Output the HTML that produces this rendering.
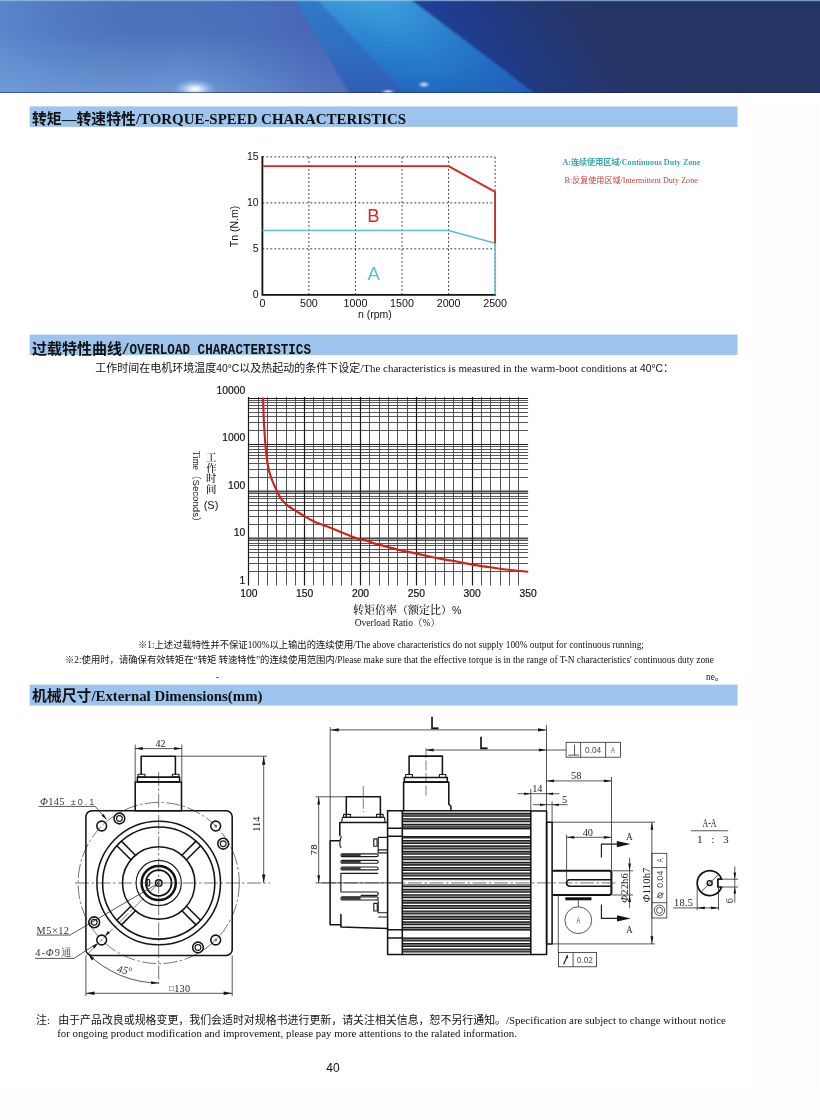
<!DOCTYPE html>
<html lang="zh"><head><meta charset="utf-8"><title>Servo motor characteristics</title>
<style>
html,body{margin:0;padding:0;background:#fff;}
body{width:820px;height:1120px;overflow:hidden;position:relative;}
svg{position:absolute;left:0;top:0;display:block;will-change:transform;}
text{white-space:pre;}
</style></head><body>
<svg width="820" height="1120" viewBox="0 0 820 1120">
<defs>
<linearGradient id="bgL" x1="0" y1="0" x2="0" y2="1">
 <stop offset="0" stop-color="#4a70ba"/><stop offset="0.35" stop-color="#4c72bb"/><stop offset="1" stop-color="#6f99d6"/>
</linearGradient>
<linearGradient id="bgLx" x1="0" y1="0" x2="1" y2="0">
 <stop offset="0" stop-color="#6fa0e0" stop-opacity="0.45"/><stop offset="0.42" stop-color="#4a6cb6" stop-opacity="0"/><stop offset="0.7" stop-color="#4560b4" stop-opacity="0.6"/><stop offset="1" stop-color="#4059b0" stop-opacity="0.9"/>
</linearGradient>
<linearGradient id="band1" x1="0" y1="0" x2="0" y2="1">
 <stop offset="0" stop-color="#2f7fca"/><stop offset="0.6" stop-color="#2b6cc0"/><stop offset="1" stop-color="#2d5cb4"/>
</linearGradient>
<linearGradient id="band2" x1="0" y1="0" x2="0" y2="1">
 <stop offset="0" stop-color="#3da2dc"/><stop offset="0.5" stop-color="#2b84cf"/><stop offset="1" stop-color="#2166c0"/>
</linearGradient>
<linearGradient id="band2x" gradientUnits="userSpaceOnUse" x1="330" y1="93" x2="470" y2="-20">
 <stop offset="0" stop-color="#2a6ac4" stop-opacity="0.55"/><stop offset="0.45" stop-color="#2a6ac4" stop-opacity="0"/><stop offset="0.55" stop-color="#1c4fb0" stop-opacity="0"/><stop offset="1" stop-color="#1c4fb0" stop-opacity="0.55"/>
</linearGradient>
<linearGradient id="navy" gradientUnits="userSpaceOnUse" x1="440" y1="60" x2="600" y2="-40">
 <stop offset="0" stop-color="#1d429c"/><stop offset="0.3" stop-color="#203a86"/><stop offset="0.7" stop-color="#24356a"/><stop offset="1" stop-color="#243463"/>
</linearGradient>
<radialGradient id="glow" cx="0.5" cy="0.5" r="0.5">
 <stop offset="0" stop-color="#ffffff" stop-opacity="1"/><stop offset="0.25" stop-color="#e8f0ff" stop-opacity="0.85"/><stop offset="1" stop-color="#8fb0e6" stop-opacity="0"/>
</radialGradient>
<filter id="soft" x="-5%" y="-5%" width="110%" height="110%"><feGaussianBlur stdDeviation="1.2"/></filter>
<clipPath id="bclip"><rect x="0" y="0" width="820" height="93"/></clipPath>
</defs>
<g clip-path="url(#bclip)">
<rect x="0" y="0" width="820" height="93" fill="url(#bgL)"/>
<rect x="0" y="0" width="440" height="93" fill="url(#bgLx)"/>
<polygon points="405,-2 822,-2 822,95 530,95" fill="url(#navy)"/>
<g filter="url(#soft)">
<polygon points="294,-2 320,-2 409,95 350,95" fill="url(#band1)" opacity="0.9"/>
<polygon points="316,-2 409,-2 537,95 407,95" fill="url(#band2)"/>
<polygon points="316,-2 409,-2 537,95 407,95" fill="url(#band2x)"/>
</g>
<ellipse cx="195" cy="89" rx="22" ry="10" fill="url(#glow)"/>
<ellipse cx="424" cy="84.5" rx="7" ry="4" fill="url(#glow)" opacity="0.75"/>
<ellipse cx="388" cy="92.5" rx="8" ry="4" fill="url(#glow)" opacity="0.95"/>
<rect x="0" y="0" width="820" height="1.2" fill="#9cc4ea" opacity="0.7"/>
<rect x="0" y="92" width="820" height="1" fill="#1e2c58" opacity="0.6"/>
</g>
<rect x="750.5" y="102" width="68" height="1018" fill="#fdfdfd"/><rect x="0" y="1088" width="820" height="32" fill="#fdfdfd"/>
<rect x="29.7" y="106.4" width="707.8" height="20.5" fill="#9dc4ec"/>
<text x="32" y="124" font-size="14.85" font-weight="bold" fill="#111" font-family='"Liberation Serif","Noto Sans CJK SC",serif'>转矩—转速特性<tspan font-size="14.92">/TORQUE-SPEED CHARACTERISTICS</tspan></text>
<rect x="29.7" y="334.6" width="707.8" height="20.5" fill="#9dc4ec"/>
<text x="32" y="354.2" font-size="15" font-weight="bold" fill="#111" font-family='"Liberation Sans","Noto Sans CJK SC",sans-serif'>过载特性曲线</text>
<text id="h2lat" x="122" y="353.8" font-size="15" font-weight="bold" fill="#111" font-family='"Liberation Mono",monospace' textLength="189" lengthAdjust="spacingAndGlyphs">/OVERLOAD CHARACTERISTICS</text>
<rect x="29.7" y="684.6" width="707.8" height="21" fill="#9dc4ec"/>
<text x="32" y="701" font-size="14.85" font-weight="bold" fill="#111" font-family='"Liberation Serif","Noto Sans CJK SC",serif'>机械尺寸<tspan>/External Dimensions(mm)</tspan></text>
<text x="95.3" y="372.3" fill="#111" font-family='"Liberation Serif","Noto Sans CJK SC",serif'><tspan font-size="11">工作时间在电机环境温度</tspan><tspan font-size="10.3" font-family='"Liberation Sans","Noto Sans CJK SC",sans-serif'>40°C</tspan><tspan font-size="11">以及热起动的条件下设定</tspan><tspan font-size="10.95">/The characteristics is measured in the warm-boot conditions at </tspan><tspan font-size="10.3" font-family='"Liberation Sans","Noto Sans CJK SC",sans-serif'>40°C</tspan><tspan font-size="11">：</tspan></text>
<text x="138" y="647.6" font-size="9.32" fill="#111" font-family='"Liberation Serif","Noto Sans CJK SC",serif'>※1:上述过载特性并不保证100%以上输出的连续使用/The above characteristics do not supply 100% output for continuous running;</text>
<text x="65" y="662.9" font-size="9.33" fill="#111" font-family='"Liberation Serif","Noto Sans CJK SC",serif'>※2:使用时，请确保有效转矩在“转矩 转速特性”的连续使用范围内/Please make sure that the effective torque is in the range of T-N characteristics' continuous duty zone</text>
<text x="706" y="680" font-size="9.3" fill="#111" font-family='"Liberation Serif","Noto Sans CJK SC",serif'>ne。</text>
<text x="216" y="680" font-size="9.3" fill="#111" font-family='"Liberation Serif","Noto Sans CJK SC",serif'>-</text>
<text x="36" y="1023.7" fill="#111" font-family='"Liberation Serif","Noto Sans CJK SC",serif'><tspan font-size="10.93">注:</tspan><tspan x="58.2"><tspan font-size="10.93">由于产品改良或规格变更，我们会适时对规格书进行更新，请关注相关信息，恕不另行通知。</tspan><tspan font-size="10.88">/Specification are subject to change without notice</tspan></tspan></text>
<text x="57.2" y="1036.7" font-size="10.84" fill="#111" font-family='"Liberation Serif","Noto Sans CJK SC",serif'>for ongoing product modification and improvement, please pay more attentions to the ralated information.</text>
<text x="333" y="1071.5" font-size="12" text-anchor="middle" fill="#111" font-family='"Liberation Sans","Noto Sans CJK SC",sans-serif'>40</text>
<g stroke="#3a3a3a" stroke-width="1.0" stroke-dasharray="1.8 2.2" fill="none"><line x1="308.9" y1="156.95" x2="308.9" y2="294.8"/><line x1="355.5" y1="156.95" x2="355.5" y2="294.8"/><line x1="402.0" y1="156.95" x2="402.0" y2="294.8"/><line x1="448.6" y1="156.95" x2="448.6" y2="294.8"/><line x1="495.1" y1="156.95" x2="495.1" y2="294.8"/><line x1="262.4" y1="248.8" x2="495.1" y2="248.8"/><line x1="262.4" y1="202.9" x2="495.1" y2="202.9"/><line x1="262.4" y1="156.9" x2="495.1" y2="156.9"/></g>
<path d="M262.4 155.95 V294.8 H496.1" stroke="#111" stroke-width="1.8" fill="none"/>
<path d="M262.4 230.5 L448.6 230.5 L495.1 243.3 L495.1 294.8" stroke="#5cbfd0" stroke-width="1.6" fill="none" stroke-linejoin="round"/>
<path d="M262.4 166.1 L448.6 166.1 L495.1 191.9 L495.1 243.3" stroke="#d5261f" stroke-width="1.8" fill="none" stroke-linejoin="round"/>
<text x="262.4" y="307.40000000000003" font-size="10.7" text-anchor="middle" fill="#111" font-family='"Liberation Sans","Noto Sans CJK SC",sans-serif'>0</text>
<text x="308.9" y="307.40000000000003" font-size="10.7" text-anchor="middle" fill="#111" font-family='"Liberation Sans","Noto Sans CJK SC",sans-serif'>500</text>
<text x="355.5" y="307.40000000000003" font-size="10.7" text-anchor="middle" fill="#111" font-family='"Liberation Sans","Noto Sans CJK SC",sans-serif'>1000</text>
<text x="402.0" y="307.40000000000003" font-size="10.7" text-anchor="middle" fill="#111" font-family='"Liberation Sans","Noto Sans CJK SC",sans-serif'>1500</text>
<text x="448.6" y="307.40000000000003" font-size="10.7" text-anchor="middle" fill="#111" font-family='"Liberation Sans","Noto Sans CJK SC",sans-serif'>2000</text>
<text x="495.1" y="307.40000000000003" font-size="10.7" text-anchor="middle" fill="#111" font-family='"Liberation Sans","Noto Sans CJK SC",sans-serif'>2500</text>
<text x="258.59999999999997" y="297.8" font-size="10.5" text-anchor="end" fill="#111" font-family='"Liberation Sans","Noto Sans CJK SC",sans-serif'>0</text>
<text x="258.59999999999997" y="251.8" font-size="10.5" text-anchor="end" fill="#111" font-family='"Liberation Sans","Noto Sans CJK SC",sans-serif'>5</text>
<text x="258.59999999999997" y="205.9" font-size="10.5" text-anchor="end" fill="#111" font-family='"Liberation Sans","Noto Sans CJK SC",sans-serif'>10</text>
<text x="258.59999999999997" y="159.9" font-size="10.5" text-anchor="end" fill="#111" font-family='"Liberation Sans","Noto Sans CJK SC",sans-serif'>15</text>
<text x="374.8" y="318" font-size="10.5" text-anchor="middle" fill="#111" font-family='"Liberation Sans","Noto Sans CJK SC",sans-serif'>n (rpm)</text>
<text transform="translate(238 226.5) rotate(-90)" font-size="10.5" text-anchor="middle" fill="#111" font-family='"Liberation Sans","Noto Sans CJK SC",sans-serif'>Tn (N.m)</text>
<text x="373.5" y="221.6" font-size="18.4" text-anchor="middle" fill="#d5261f" font-family='"Liberation Sans","Noto Sans CJK SC",sans-serif'>B</text>
<text x="373.6" y="279.8" font-size="18.6" text-anchor="middle" fill="#5cbfd0" font-family='"Liberation Sans","Noto Sans CJK SC",sans-serif'>A</text>
<text x="562.4" y="165.4" font-size="8.1" font-weight="bold" fill="#3aa5a8" font-family='"Liberation Serif","Noto Sans CJK SC",serif'>A:连续使用区域/Continuous Duty Zone</text>
<text x="564.5" y="182.9" font-size="8.08" fill="#c9413c" font-family='"Liberation Serif","Noto Sans CJK SC",serif'>B:反复使用区域/Intermittent Duty Zone</text>
<g stroke="#444" stroke-width="0.9"><line x1="258.50" y1="396.9" x2="258.50" y2="585.5"/><line x1="267.50" y1="396.9" x2="267.50" y2="585.5"/><line x1="276.50" y1="396.9" x2="276.50" y2="585.5"/><line x1="286.50" y1="396.9" x2="286.50" y2="585.5"/><line x1="295.50" y1="396.9" x2="295.50" y2="585.5"/><line x1="313.50" y1="396.9" x2="313.50" y2="585.5"/><line x1="323.50" y1="396.9" x2="323.50" y2="585.5"/><line x1="332.50" y1="396.9" x2="332.50" y2="585.5"/><line x1="341.50" y1="396.9" x2="341.50" y2="585.5"/><line x1="351.50" y1="396.9" x2="351.50" y2="585.5"/><line x1="369.50" y1="396.9" x2="369.50" y2="585.5"/><line x1="379.50" y1="396.9" x2="379.50" y2="585.5"/><line x1="388.50" y1="396.9" x2="388.50" y2="585.5"/><line x1="397.50" y1="396.9" x2="397.50" y2="585.5"/><line x1="407.50" y1="396.9" x2="407.50" y2="585.5"/><line x1="425.50" y1="396.9" x2="425.50" y2="585.5"/><line x1="435.50" y1="396.9" x2="435.50" y2="585.5"/><line x1="444.50" y1="396.9" x2="444.50" y2="585.5"/><line x1="453.50" y1="396.9" x2="453.50" y2="585.5"/><line x1="462.50" y1="396.9" x2="462.50" y2="585.5"/><line x1="481.50" y1="396.9" x2="481.50" y2="585.5"/><line x1="490.50" y1="396.9" x2="490.50" y2="585.5"/><line x1="500.50" y1="396.9" x2="500.50" y2="585.5"/><line x1="509.50" y1="396.9" x2="509.50" y2="585.5"/><line x1="518.50" y1="396.9" x2="518.50" y2="585.5"/><line x1="248.8" y1="571.50" x2="528.1" y2="571.50"/><line x1="248.8" y1="563.50" x2="528.1" y2="563.50"/><line x1="248.8" y1="557.50" x2="528.1" y2="557.50"/><line x1="248.8" y1="552.50" x2="528.1" y2="552.50"/><line x1="248.8" y1="549.50" x2="528.1" y2="549.50"/><line x1="248.8" y1="545.50" x2="528.1" y2="545.50"/><line x1="248.8" y1="543.50" x2="528.1" y2="543.50"/><line x1="248.8" y1="540.50" x2="528.1" y2="540.50"/><line x1="248.8" y1="524.50" x2="528.1" y2="524.50"/><line x1="248.8" y1="516.50" x2="528.1" y2="516.50"/><line x1="248.8" y1="510.50" x2="528.1" y2="510.50"/><line x1="248.8" y1="505.50" x2="528.1" y2="505.50"/><line x1="248.8" y1="502.50" x2="528.1" y2="502.50"/><line x1="248.8" y1="498.50" x2="528.1" y2="498.50"/><line x1="248.8" y1="496.50" x2="528.1" y2="496.50"/><line x1="248.8" y1="493.50" x2="528.1" y2="493.50"/><line x1="248.8" y1="477.50" x2="528.1" y2="477.50"/><line x1="248.8" y1="469.50" x2="528.1" y2="469.50"/><line x1="248.8" y1="463.50" x2="528.1" y2="463.50"/><line x1="248.8" y1="458.50" x2="528.1" y2="458.50"/><line x1="248.8" y1="455.50" x2="528.1" y2="455.50"/><line x1="248.8" y1="452.50" x2="528.1" y2="452.50"/><line x1="248.8" y1="449.50" x2="528.1" y2="449.50"/><line x1="248.8" y1="446.50" x2="528.1" y2="446.50"/><line x1="248.8" y1="430.50" x2="528.1" y2="430.50"/><line x1="248.8" y1="422.50" x2="528.1" y2="422.50"/><line x1="248.8" y1="416.50" x2="528.1" y2="416.50"/><line x1="248.8" y1="412.50" x2="528.1" y2="412.50"/><line x1="248.8" y1="408.50" x2="528.1" y2="408.50"/><line x1="248.8" y1="405.50" x2="528.1" y2="405.50"/><line x1="248.8" y1="402.50" x2="528.1" y2="402.50"/><line x1="248.8" y1="400.50" x2="528.1" y2="400.50"/></g>
<g stroke="#4a4a4a" stroke-width="2.2"><line x1="248.8" y1="538.50" x2="528.1" y2="538.50"/><line x1="248.8" y1="491.50" x2="528.1" y2="491.50"/></g>
<g stroke="#1a1a1a" stroke-width="1.2"><line x1="248.50" y1="396.9" x2="248.50" y2="585.5"/><line x1="304.50" y1="396.9" x2="304.50" y2="585.5"/><line x1="360.50" y1="396.9" x2="360.50" y2="585.5"/><line x1="416.50" y1="396.9" x2="416.50" y2="585.5"/><line x1="472.50" y1="396.9" x2="472.50" y2="585.5"/><line x1="248.8" y1="444.50" x2="528.1" y2="444.50"/><line x1="248.8" y1="398.50" x2="528.1" y2="398.50"/></g>
<path d="M263.0 397.5 C263.1 400.4 263.4 409.6 263.6 415.0 C263.8 420.4 264.1 425.1 264.4 430.0 C264.7 434.9 265.0 439.8 265.4 444.5 C265.8 449.2 266.2 453.8 266.8 458.0 C267.4 462.2 267.9 466.3 268.8 470.0 C269.7 473.7 271.0 477.2 272.0 480.0 C273.0 482.8 274.1 484.9 275.0 487.0 C275.9 489.1 276.6 490.8 277.7 492.9 C278.8 495.0 280.1 497.5 281.8 499.7 C283.5 501.9 285.6 504.0 288.0 505.9 C290.4 507.8 293.5 509.4 296.3 511.1 C299.1 512.8 301.5 514.5 304.6 516.3 C307.7 518.1 311.2 520.2 315.0 521.9 C318.8 523.6 322.9 524.9 327.4 526.6 C331.9 528.4 337.4 530.6 341.9 532.4 C346.4 534.2 351.3 536.2 354.4 537.4 C357.5 538.6 358.5 538.9 360.6 539.5 C362.7 540.1 364.4 540.1 366.8 540.8 C369.2 541.5 371.7 542.6 375.1 543.6 C378.6 544.6 383.4 545.8 387.5 546.9 C391.6 548.0 395.1 549.1 400.0 550.2 C404.9 551.3 410.7 552.3 416.7 553.6 C422.7 554.9 430.0 556.8 436.0 558.0 C442.0 559.2 446.6 559.7 452.6 560.8 C458.6 561.9 465.6 563.5 472.2 564.6 C478.8 565.7 485.8 566.6 491.9 567.5 C497.9 568.4 502.4 569.1 508.5 569.8 C514.5 570.5 524.9 571.5 528.2 571.8" stroke="#d41f1a" stroke-width="2.15" fill="none" stroke-linecap="butt"/>
<text x="245.2" y="393.7" font-size="10.3" text-anchor="end" fill="#111" stroke="#111" stroke-width="0.2" font-family='"Liberation Sans","Noto Sans CJK SC",sans-serif'>10000</text>
<text x="245.2" y="441.1" font-size="10.3" text-anchor="end" fill="#111" stroke="#111" stroke-width="0.2" font-family='"Liberation Sans","Noto Sans CJK SC",sans-serif'>1000</text>
<text x="245.2" y="488.6" font-size="10.3" text-anchor="end" fill="#111" stroke="#111" stroke-width="0.2" font-family='"Liberation Sans","Noto Sans CJK SC",sans-serif'>100</text>
<text x="245.2" y="535.8" font-size="10.3" text-anchor="end" fill="#111" stroke="#111" stroke-width="0.2" font-family='"Liberation Sans","Noto Sans CJK SC",sans-serif'>10</text>
<text x="245.2" y="583.5" font-size="10.3" text-anchor="end" fill="#111" stroke="#111" stroke-width="0.2" font-family='"Liberation Sans","Noto Sans CJK SC",sans-serif'>1</text>
<text x="248.8" y="596.8" font-size="10.3" text-anchor="middle" fill="#111" stroke="#111" stroke-width="0.2" font-family='"Liberation Sans","Noto Sans CJK SC",sans-serif'>100</text>
<text x="304.7" y="596.8" font-size="10.3" text-anchor="middle" fill="#111" stroke="#111" stroke-width="0.2" font-family='"Liberation Sans","Noto Sans CJK SC",sans-serif'>150</text>
<text x="360.5" y="596.8" font-size="10.3" text-anchor="middle" fill="#111" stroke="#111" stroke-width="0.2" font-family='"Liberation Sans","Noto Sans CJK SC",sans-serif'>200</text>
<text x="416.4" y="596.8" font-size="10.3" text-anchor="middle" fill="#111" stroke="#111" stroke-width="0.2" font-family='"Liberation Sans","Noto Sans CJK SC",sans-serif'>250</text>
<text x="472.2" y="596.8" font-size="10.3" text-anchor="middle" fill="#111" stroke="#111" stroke-width="0.2" font-family='"Liberation Sans","Noto Sans CJK SC",sans-serif'>300</text>
<text x="528.1" y="596.8" font-size="10.3" text-anchor="middle" fill="#111" stroke="#111" stroke-width="0.2" font-family='"Liberation Sans","Noto Sans CJK SC",sans-serif'>350</text>
<text x="352.9" y="613.6" font-size="11" font-weight="500" fill="#111" font-family='"Liberation Serif","Noto Serif CJK SC",serif'>转矩倍率（额定比）<tspan font-family='"Liberation Sans","Noto Sans CJK SC",sans-serif' font-size="10.5">%</tspan></text>
<text x="354.7" y="625.9" font-size="9.5" fill="#111" font-family='"Liberation Serif","Noto Serif CJK SC",serif'>Overload Ratio（%）</text>
<text x="211.3" y="461.0" font-size="10.5" font-weight="500" text-anchor="middle" fill="#111" font-family='"Liberation Serif","Noto Serif CJK SC",serif'>工</text>
<text x="211.3" y="471.7" font-size="10.5" font-weight="500" text-anchor="middle" fill="#111" font-family='"Liberation Serif","Noto Serif CJK SC",serif'>作</text>
<text x="211.3" y="482.4" font-size="10.5" font-weight="500" text-anchor="middle" fill="#111" font-family='"Liberation Serif","Noto Serif CJK SC",serif'>时</text>
<text x="211.3" y="493.1" font-size="10.5" font-weight="500" text-anchor="middle" fill="#111" font-family='"Liberation Serif","Noto Serif CJK SC",serif'>间</text>
<text x="211" y="508.8" font-size="11" text-anchor="middle" fill="#111" font-family='"Liberation Sans","Noto Sans CJK SC",sans-serif'>(S)</text>
<text transform="translate(193.3 450.7) rotate(90)" font-size="9.3" fill="#111" font-family='"Liberation Serif","Noto Serif CJK SC",serif'>Time<tspan font-family='"Liberation Sans","Noto Sans CJK SC",sans-serif' font-size="9.6">（Seconds）</tspan></text>
<circle cx="158.7" cy="883.0" r="17.1" stroke="#111" stroke-width="2.5" fill="none"/>
<circle cx="158.7" cy="883.0" r="12.8" stroke="#111" stroke-width="1.8" fill="none"/>
<circle cx="158.7" cy="883.0" r="3.3" stroke="#111" stroke-width="1.5" fill="none"/>
<circle cx="158.7" cy="883.0" r="80.6" stroke="#3a3a3a" stroke-width="0.7" fill="none" stroke-dasharray="14 2.5 2.5 2.5"/>
<g stroke="#3a3a3a" stroke-width="0.7" fill="none" stroke-dasharray="14 2.5 2.5 2.5"><line x1="75.0" y1="883.0" x2="270.0" y2="883.0"/><line x1="158.7" y1="772.0" x2="158.7" y2="984.0"/></g>
<text x="160.6" y="747.3" font-size="10" text-anchor="middle" fill="#222" font-family='"Liberation Serif","Noto Serif CJK SC",serif'>42</text>
<text transform="translate(260.3 824.2) rotate(-90)" font-size="10.3" text-anchor="middle" fill="#222" font-family='"Liberation Serif","Noto Serif CJK SC",serif'>114</text>
<text x="39.9" y="804.8" font-size="10.3" fill="#333" font-family='"Liberation Serif","Noto Serif CJK SC",serif' letter-spacing="0.4"><tspan font-style="italic">Φ</tspan>145<tspan font-family='"Liberation Sans","Noto Sans CJK SC",sans-serif' font-size="9" dx="6" fill="#4a4a4a" letter-spacing="2.0">±0.1</tspan></text>
<text x="36.6" y="933.5" font-size="10.3" fill="#333" font-family='"Liberation Serif","Noto Serif CJK SC",serif' textLength="32.4" lengthAdjust="spacing">M5×12</text>
<text x="35.2" y="956.3" font-size="10.3" fill="#333" font-family='"Liberation Serif","Noto Serif CJK SC",serif' textLength="36" lengthAdjust="spacing">4-<tspan font-style="italic">Φ</tspan>9通</text>
<path d="M158.7 883.0 L86.0 955.7" stroke="#3a3a3a" stroke-width="0.7" fill="none" stroke-dasharray="14 2.5 2.5 2.5"/>
<text transform="translate(124 973.5) rotate(10)" font-size="10.5" font-style="italic" text-anchor="middle" fill="#333" font-family='"Liberation Serif","Noto Serif CJK SC",serif'>45°</text>
<text x="169" y="992" font-size="10.3" fill="#222" font-family='"Liberation Serif","Noto Serif CJK SC",serif' letter-spacing="0.3"><tspan font-size="8" dy="-0.8">□</tspan><tspan dy="0.8">130</tspan></text>
<g stroke="#141414" stroke-width="1.55" fill="none" stroke-linejoin="round" stroke-linecap="round"><rect x="85.9" y="810.7" width="146.3" height="144.7" rx="6"/><circle cx="158.7" cy="883.0" r="61.8"/><circle cx="158.7" cy="883.0" r="56.1"/><circle cx="158.7" cy="883.0" r="36.2"/><line x1="186.5" y1="906.2" x2="200.6" y2="920.3"/><line x1="181.9" y1="910.8" x2="196.0" y2="924.9"/><line x1="135.5" y1="910.8" x2="121.4" y2="924.9"/><line x1="130.9" y1="906.2" x2="116.8" y2="920.3"/><line x1="130.9" y1="859.8" x2="116.8" y2="845.7"/><line x1="135.5" y1="855.2" x2="121.4" y2="841.1"/><line x1="181.9" y1="855.2" x2="196.0" y2="841.1"/><line x1="186.5" y1="859.8" x2="200.6" y2="845.7"/><circle cx="215.7" cy="940.0" r="4.9"/><circle cx="119.4" cy="818.5" r="5.4"/><circle cx="101.7" cy="940.0" r="4.9"/><circle cx="223.2" cy="843.7" r="5.4"/><circle cx="101.7" cy="826.0" r="4.9"/><circle cx="198.0" cy="947.5" r="5.4"/><circle cx="215.7" cy="826.0" r="4.9"/><circle cx="94.2" cy="922.3" r="5.4"/><rect x="135.2" y="781.9" width="46.3" height="28.8"/><rect x="137.4" y="777.1" width="42.2" height="4.8"/><path d="M141.2 774.2 V756.2 H175.4 V774.2"/></g>
<g stroke="#1c1c1c" stroke-width="1.15" fill="none" stroke-linejoin="round"><circle cx="158.7" cy="883.0" r="22.6"/><rect x="147.2" y="879.6" width="2.5" height="6.2" rx="0.8"/><circle cx="119.4" cy="818.5" r="2.9"/><circle cx="223.2" cy="843.7" r="2.9"/><circle cx="198.0" cy="947.5" r="2.9"/><circle cx="94.2" cy="922.3" r="2.9"/><rect x="138.0" y="774.2" width="6.8" height="2.9"/><rect x="172.4" y="774.2" width="6.6" height="2.9"/></g>
<g stroke="#262626" stroke-width="0.78" fill="none"><circle cx="158.7" cy="883.0" r="1.4"/><circle cx="215.7" cy="826.0" r="0.9"/><circle cx="215.7" cy="940.0" r="0.9"/><line x1="135.2" y1="744.5" x2="135.2" y2="781.9"/><line x1="181.8" y1="744.5" x2="181.8" y2="781.9"/><line x1="135.2" y1="748.6" x2="181.8" y2="748.6"/><line x1="175.4" y1="756.2" x2="267.0" y2="756.2"/><line x1="263.7" y1="756.2" x2="263.7" y2="883.0"/><path d="M38.6 806.4 H95.2 L106.6 819.5"/><path d="M36.6 935.1 H69.9 L158.7 883.0"/><path d="M35 958.4 H74 L96.5 943.8"/><path d="M88.0 953.7 A100.0 100.0 0 0 0 158.7 983.0"/><line x1="85.9" y1="955.4" x2="85.9" y2="996.0"/><line x1="232.2" y1="955.4" x2="232.2" y2="996.0"/><line x1="85.9" y1="993.3" x2="232.2" y2="993.3"/></g>
<polygon points="135.2,748.6 142.8,747.1 142.8,750.1" fill="#151515" stroke="none"/><polygon points="181.8,748.6 174.2,750.1 174.2,747.1" fill="#151515" stroke="none"/><polygon points="263.7,756.2 265.4,764.8 262.0,764.8" fill="#151515" stroke="none"/><polygon points="263.7,883.0 262.0,874.5 265.4,874.5" fill="#151515" stroke="none"/><polygon points="106.6,819.5 101.5,815.8 103.6,813.9" fill="#151515" stroke="none"/><polygon points="158.7,983.0 151.1,984.3 151.2,981.2" fill="#151515" stroke="none"/><polygon points="88.0,953.7 94.2,958.3 91.9,960.4" fill="#151515" stroke="none"/><polygon points="104.9,936.0 107.8,930.9 110.0,933.1" fill="#151515" stroke="none"/><polygon points="97.5,943.4 94.6,948.5 92.4,946.3" fill="#151515" stroke="none"/><polygon points="85.9,993.3 94.5,991.6 94.5,995.0" fill="#151515" stroke="none"/><polygon points="232.2,993.3 223.6,995.0 223.6,991.6" fill="#151515" stroke="none"/>
<g fill="#808080" stroke="none"><rect x="402.3" y="813.51" width="128.3" height="2.71"/><rect x="402.3" y="818.93" width="128.3" height="2.71"/><rect x="402.3" y="824.36" width="128.3" height="2.71"/><rect x="402.3" y="829.78" width="128.3" height="2.71"/><rect x="402.3" y="835.20" width="128.3" height="2.71"/><rect x="402.3" y="840.62" width="128.3" height="2.71"/><rect x="402.3" y="846.05" width="128.3" height="2.71"/><rect x="402.3" y="851.47" width="128.3" height="2.71"/><rect x="402.3" y="856.89" width="128.3" height="2.71"/><rect x="402.3" y="862.32" width="128.3" height="2.71"/><rect x="402.3" y="867.74" width="128.3" height="2.71"/><rect x="402.3" y="873.16" width="128.3" height="2.71"/><rect x="402.3" y="878.58" width="128.3" height="2.71"/><rect x="402.3" y="884.01" width="128.3" height="2.71"/><rect x="402.3" y="889.43" width="128.3" height="2.71"/><rect x="402.3" y="894.85" width="128.3" height="2.71"/><rect x="402.3" y="900.27" width="128.3" height="2.71"/><rect x="402.3" y="905.70" width="128.3" height="2.71"/><rect x="402.3" y="911.12" width="128.3" height="2.71"/><rect x="402.3" y="916.54" width="128.3" height="2.71"/><rect x="402.3" y="921.96" width="128.3" height="2.71"/><rect x="402.3" y="927.39" width="128.3" height="2.71"/><rect x="402.3" y="932.81" width="128.3" height="2.71"/><rect x="402.3" y="938.23" width="128.3" height="2.71"/><rect x="402.3" y="943.65" width="128.3" height="2.71"/><rect x="402.3" y="949.08" width="128.3" height="2.71"/></g>
<g stroke="#1c1c1c" stroke-width="1.3"><line x1="402.3" y1="813.5" x2="530.6" y2="813.5"/><line x1="402.3" y1="816.2" x2="530.6" y2="816.2"/><line x1="402.3" y1="818.9" x2="530.6" y2="818.9"/><line x1="402.3" y1="821.6" x2="530.6" y2="821.6"/><line x1="402.3" y1="824.4" x2="530.6" y2="824.4"/><line x1="402.3" y1="827.1" x2="530.6" y2="827.1"/><line x1="402.3" y1="829.8" x2="530.6" y2="829.8"/><line x1="402.3" y1="832.5" x2="530.6" y2="832.5"/><line x1="402.3" y1="835.2" x2="530.6" y2="835.2"/><line x1="402.3" y1="837.9" x2="530.6" y2="837.9"/><line x1="402.3" y1="840.6" x2="530.6" y2="840.6"/><line x1="402.3" y1="843.3" x2="530.6" y2="843.3"/><line x1="402.3" y1="846.0" x2="530.6" y2="846.0"/><line x1="402.3" y1="848.8" x2="530.6" y2="848.8"/><line x1="402.3" y1="851.5" x2="530.6" y2="851.5"/><line x1="402.3" y1="854.2" x2="530.6" y2="854.2"/><line x1="402.3" y1="856.9" x2="530.6" y2="856.9"/><line x1="402.3" y1="859.6" x2="530.6" y2="859.6"/><line x1="402.3" y1="862.3" x2="530.6" y2="862.3"/><line x1="402.3" y1="865.0" x2="530.6" y2="865.0"/><line x1="402.3" y1="867.7" x2="530.6" y2="867.7"/><line x1="402.3" y1="870.4" x2="530.6" y2="870.4"/><line x1="402.3" y1="873.2" x2="530.6" y2="873.2"/><line x1="402.3" y1="875.9" x2="530.6" y2="875.9"/><line x1="402.3" y1="878.6" x2="530.6" y2="878.6"/><line x1="402.3" y1="881.3" x2="530.6" y2="881.3"/><line x1="402.3" y1="884.0" x2="530.6" y2="884.0"/><line x1="402.3" y1="886.7" x2="530.6" y2="886.7"/><line x1="402.3" y1="889.4" x2="530.6" y2="889.4"/><line x1="402.3" y1="892.1" x2="530.6" y2="892.1"/><line x1="402.3" y1="894.9" x2="530.6" y2="894.9"/><line x1="402.3" y1="897.6" x2="530.6" y2="897.6"/><line x1="402.3" y1="900.3" x2="530.6" y2="900.3"/><line x1="402.3" y1="903.0" x2="530.6" y2="903.0"/><line x1="402.3" y1="905.7" x2="530.6" y2="905.7"/><line x1="402.3" y1="908.4" x2="530.6" y2="908.4"/><line x1="402.3" y1="911.1" x2="530.6" y2="911.1"/><line x1="402.3" y1="913.8" x2="530.6" y2="913.8"/><line x1="402.3" y1="916.5" x2="530.6" y2="916.5"/><line x1="402.3" y1="919.3" x2="530.6" y2="919.3"/><line x1="402.3" y1="922.0" x2="530.6" y2="922.0"/><line x1="402.3" y1="924.7" x2="530.6" y2="924.7"/><line x1="402.3" y1="927.4" x2="530.6" y2="927.4"/><line x1="402.3" y1="930.1" x2="530.6" y2="930.1"/><line x1="402.3" y1="932.8" x2="530.6" y2="932.8"/><line x1="402.3" y1="935.5" x2="530.6" y2="935.5"/><line x1="402.3" y1="938.2" x2="530.6" y2="938.2"/><line x1="402.3" y1="940.9" x2="530.6" y2="940.9"/><line x1="402.3" y1="943.7" x2="530.6" y2="943.7"/><line x1="402.3" y1="946.4" x2="530.6" y2="946.4"/><line x1="402.3" y1="949.1" x2="530.6" y2="949.1"/><line x1="402.3" y1="951.8" x2="530.6" y2="951.8"/></g>
<rect x="402.3" y="829.3" width="128.3" height="7.0" fill="#fff"/>
<rect x="402.3" y="930.4" width="128.3" height="7.2" fill="#fff"/>
<rect x="402.3" y="880.2" width="128.3" height="4.2" fill="#fff"/>
<g stroke="#1c1c1c" stroke-width="1.2"><line x1="402.3" y1="828.7" x2="530.6" y2="828.7"/><line x1="402.3" y1="836.6" x2="530.6" y2="836.6"/><line x1="402.3" y1="929.8" x2="530.6" y2="929.8"/><line x1="402.3" y1="938.0" x2="530.6" y2="938.0"/></g>
<path d="M552.1 870.8 H610.2 L611.4 872.2 V893.5 L610.2 894.9 H552.1" stroke="#111" stroke-width="2" fill="none" stroke-linejoin="round"/>
<g stroke="#3a3a3a" stroke-width="0.7" fill="none" stroke-dasharray="14 2.5 2.5 2.5"><line x1="322.0" y1="882.9" x2="616.0" y2="882.9"/></g>
<path d="M426 748 V797" stroke="#444" stroke-width="0.7" stroke-dasharray="10 2.5"/>
<path d="M363.3 786 V812" stroke="#444" stroke-width="0.7" stroke-dasharray="10 2.5"/>
<text x="434.3" y="729.3" font-size="15.9" text-anchor="middle" fill="#111" stroke="#111" stroke-width="0.35" font-family='"Liberation Sans","Noto Sans CJK SC",sans-serif'>L</text>
<text x="483.4" y="748.6" font-size="15.9" text-anchor="middle" fill="#111" stroke="#111" stroke-width="0.35" font-family='"Liberation Sans","Noto Sans CJK SC",sans-serif'>L</text>
<text transform="translate(317.0 849.8) rotate(-90)" font-size="9.6" text-anchor="middle" fill="#222" font-family='"Liberation Sans","Noto Sans CJK SC",sans-serif'>78</text>
<text x="593.1" y="752.8" font-size="8.4" text-anchor="middle" fill="#4a4a4a" font-family='"Liberation Sans","Noto Sans CJK SC",sans-serif' textLength="16.2" lengthAdjust="spacingAndGlyphs">0.04</text>
<text x="612.9" y="752.8" font-size="8.4" text-anchor="middle" fill="#4a4a4a" font-family='"Liberation Sans","Noto Sans CJK SC",sans-serif' textLength="3.8" lengthAdjust="spacingAndGlyphs">A</text>
<text x="576.2" y="779.4" font-size="10.3" text-anchor="middle" fill="#222" font-family='"Liberation Serif","Noto Serif CJK SC",serif'>58</text>
<text x="537.3" y="792.2" font-size="10.3" text-anchor="middle" fill="#222" font-family='"Liberation Serif","Noto Serif CJK SC",serif'>14</text>
<text x="564.7" y="803.3" font-size="10.3" text-anchor="middle" fill="#222" font-family='"Liberation Serif","Noto Serif CJK SC",serif'>5</text>
<text x="587.8" y="835.7" font-size="10.3" text-anchor="middle" fill="#222" font-family='"Liberation Serif","Noto Serif CJK SC",serif'>40</text>
<text x="629.5" y="840" font-size="11" text-anchor="middle" fill="#222" font-family='"Liberation Serif","Noto Serif CJK SC",serif' transform="translate(629.5 0) scale(0.8 1) translate(-629.5 0)">A</text>
<text x="629.5" y="932.8" font-size="11" text-anchor="middle" fill="#222" font-family='"Liberation Serif","Noto Serif CJK SC",serif' transform="translate(629.5 0) scale(0.8 1) translate(-629.5 0)">A</text>
<text transform="translate(628.0 888.1) rotate(-90)" font-size="10.7" text-anchor="middle" fill="#222" font-family='"Liberation Serif","Noto Serif CJK SC",serif' textLength="29.9" lengthAdjust="spacing"><tspan font-style="italic">Φ</tspan>22h6</text>
<text transform="translate(650.0 885.1) rotate(-90)" font-size="10.6" text-anchor="middle" fill="#222" font-family='"Liberation Serif","Noto Serif CJK SC",serif' textLength="35" lengthAdjust="spacing"><tspan font-style="italic">Φ</tspan>110h7</text>
<text transform="translate(663.2 860.4) rotate(-90)" font-size="8.4" text-anchor="middle" fill="#4a4a4a" font-family='"Liberation Sans","Noto Sans CJK SC",sans-serif' textLength="3.8" lengthAdjust="spacingAndGlyphs">A</text>
<text transform="translate(662.5 879.2) rotate(-90)" font-size="8.4" text-anchor="middle" fill="#4a4a4a" font-family='"Liberation Sans","Noto Sans CJK SC",sans-serif' textLength="17" lengthAdjust="spacingAndGlyphs">0.04</text>
<rect x="565.3" y="897.3" width="26.2" height="3.0" fill="#111"/>
<text x="578.3" y="923.2" font-size="8.4" text-anchor="middle" fill="#4a4a4a" font-family='"Liberation Sans","Noto Sans CJK SC",sans-serif' textLength="3.8" lengthAdjust="spacingAndGlyphs">A</text>
<text x="584.9" y="962.8" font-size="8.4" text-anchor="middle" fill="#4a4a4a" font-family='"Liberation Sans","Noto Sans CJK SC",sans-serif' textLength="16.2" lengthAdjust="spacingAndGlyphs">0.02</text>
<text x="709.5" y="827.2" font-size="12.8" text-anchor="middle" fill="#222" font-family='"Liberation Serif","Noto Serif CJK SC",serif' transform="translate(709.5 0) scale(0.62 1) translate(-709.5 0)">A-A</text>
<line x1="691.1" y1="830.8" x2="728.2" y2="830.8" stroke="#555" stroke-width="1.1"/>
<text x="699.9" y="842.9" font-size="11.4" text-anchor="middle" fill="#222" font-family='"Liberation Serif","Noto Serif CJK SC",serif'>1</text>
<text x="712.9" y="842.9" font-size="11.4" text-anchor="middle" fill="#222" font-family='"Liberation Serif","Noto Serif CJK SC",serif'>:</text>
<text x="725.9" y="842.9" font-size="11.4" text-anchor="middle" fill="#222" font-family='"Liberation Serif","Noto Serif CJK SC",serif'>3</text>
<path d="M721.6 879.2 A12.5 12.5 0 1 0 721.6 887.0 H717.9 V879.2 Z" stroke="#111" stroke-width="1.7" fill="none" stroke-linejoin="round"/>
<circle cx="709.7" cy="883.1" r="2.5" stroke="#111" stroke-width="1.4" fill="none"/>
<text transform="translate(733.4 900.7) rotate(-90)" font-size="10.3" text-anchor="middle" fill="#222" font-family='"Liberation Serif","Noto Serif CJK SC",serif'>6</text>
<text x="674" y="906.3" font-size="10.3" fill="#222" font-family='"Liberation Serif","Noto Serif CJK SC",serif' letter-spacing="0.3">18.5</text>
<g stroke="#141414" stroke-width="1.55" fill="none" stroke-linejoin="round" stroke-linecap="round"><line x1="402.3" y1="810.8" x2="530.6" y2="810.8"/><line x1="402.3" y1="954.5" x2="530.6" y2="954.5"/><rect x="387.6" y="810.7" width="14.7" height="143.8"/><line x1="387.6" y1="828.3" x2="402.3" y2="828.3"/><line x1="387.6" y1="836.2" x2="402.3" y2="836.2"/><line x1="387.6" y1="929.8" x2="402.3" y2="929.8"/><line x1="387.6" y1="938.0" x2="402.3" y2="938.0"/><rect x="530.8" y="810.9" width="15.8" height="143.5"/><rect x="546.6" y="822.3" width="5.5" height="121.7"/><path d="M610.2 879.8 H569.8 A3.2 3.2 0 0 0 569.8 886.2 H610.2"/><path d="M403.6 810.7 V782.1 H448.8 V804.2 L450.9 806.2 V810.7"/><rect x="404.4" y="777.5" width="42.9" height="4.6"/><path d="M409.1 774.5 V756.1 H442.4 V774.5"/><path d="M346.3 817.4 V796.8 H380.4 V817.4"/><path d="M387.6 822.4 H339.8 V835.5"/><path d="M339.4 840.7 H330.1 V924.8 H340.9"/><path d="M340.9 914.5 V927 L387.6 928.6"/></g>
<g stroke="#1c1c1c" stroke-width="1.15" fill="none" stroke-linejoin="round"><rect x="405.7" y="774.5" width="6.8" height="3.0"/><rect x="439.4" y="774.5" width="6.4" height="3.0"/><rect x="343.6" y="814.4" width="6.9" height="3.0"/><rect x="376.5" y="814.4" width="6.6" height="3.0"/><line x1="350.5" y1="817.4" x2="376.5" y2="817.4"/><path d="M341.6 822.4 L342.4 817.4 H384.4 L385.2 822.4"/><path d="M341.4 836 Q339.6 840 339.8 844.5 Q340 847 341.4 847.8"/><rect x="373.8" y="838.8" width="3.3" height="7.4"/><path d="M387.6 837.4 H378.2 V852.8 H387.6 M378.2 849.8 H387.6"/><rect x="373.8" y="903.4" width="3.5" height="7.6"/><path d="M378.2 900.2 V912.7 H387.6 M378.2 917 H387.6"/><rect x="341.9" y="854.1" width="18.7" height="2.2" fill="#3a3a3a" stroke="none"/><path d="M376.8 853.8 H342.3 A1.4 1.4 0 0 0 342.3 856.6 H376.8 A1.4 1.4 0 0 0 376.8 853.8 Z"/><rect x="341.9" y="860.7" width="18.7" height="2.2" fill="#3a3a3a" stroke="none"/><path d="M376.8 860.4 H342.3 A1.4 1.4 0 0 0 342.3 863.2 H376.8 A1.4 1.4 0 0 0 376.8 860.4 Z"/><rect x="341.9" y="867.3" width="18.7" height="2.2" fill="#3a3a3a" stroke="none"/><path d="M376.8 867.0 H342.3 A1.4 1.4 0 0 0 342.3 869.8 H376.8 A1.4 1.4 0 0 0 376.8 867.0 Z"/><path d="M378.2 873.4 H340.9 V892 H376.6 A1.6 1.6 0 0 1 376.6 895.4 H360.6"/><rect x="341.9" y="897.1" width="18.7" height="2.6" fill="#3a3a3a" stroke="none"/><path d="M376.6 896.8 H342.5 A1.6 1.6 0 0 0 342.5 900.0 H376.6 A1.6 1.6 0 0 0 376.6 896.8 Z"/><path d="M601.4 857.6 V844.1 H617"/><path d="M601.4 904.4 V918.4 H617"/><path d="M563.6 964.2 L567.6 955.4"/></g>
<g stroke="#262626" stroke-width="0.78" fill="none"><line x1="330.2" y1="727.0" x2="330.2" y2="840.7"/><line x1="546.5" y1="725.0" x2="546.5" y2="811.0"/><line x1="330.2" y1="729.9" x2="546.5" y2="729.9"/><line x1="426.0" y1="750.0" x2="566.1" y2="750.0"/><line x1="315.5" y1="796.8" x2="346.3" y2="796.8"/><line x1="318.7" y1="796.8" x2="318.7" y2="882.9"/><line x1="315.5" y1="882.9" x2="402.0" y2="882.9"/><rect x="566.1" y="742.3" width="54.4" height="14.9"/><line x1="580.6" y1="742.3" x2="580.6" y2="757.2"/><line x1="605.6" y1="742.3" x2="605.6" y2="757.2"/><path d="M574.5 744.8 V755.1 M568.3 755.1 H579"/><line x1="611.5" y1="777.0" x2="611.5" y2="870.8"/><line x1="546.5" y1="780.9" x2="611.5" y2="780.9"/><line x1="530.8" y1="789.0" x2="530.8" y2="810.9"/><line x1="517.5" y1="793.7" x2="559.5" y2="793.7"/><line x1="552.1" y1="801.5" x2="552.1" y2="822.3"/><line x1="532.8" y1="804.7" x2="567.7" y2="804.7"/><line x1="566.6" y1="834.5" x2="566.6" y2="879.8"/><line x1="566.6" y1="837.3" x2="611.5" y2="837.3"/><line x1="612.0" y1="870.8" x2="633.0" y2="870.8"/><line x1="612.0" y1="895.0" x2="633.0" y2="895.0"/><line x1="629.6" y1="857.8" x2="629.6" y2="908.2"/><line x1="552.1" y1="822.2" x2="655.0" y2="822.2"/><line x1="552.1" y1="943.9" x2="655.0" y2="943.9"/><line x1="651.9" y1="822.2" x2="651.9" y2="943.9"/><rect x="651.9" y="853.3" width="14.9" height="64.7"/><line x1="651.9" y1="867.6" x2="666.8" y2="867.6"/><line x1="651.9" y1="902.7" x2="666.8" y2="902.7"/><ellipse cx="660.2" cy="895.4" rx="2.2" ry="2.7"/><line x1="656.6" y1="897.6" x2="663.8" y2="893.2"/><circle cx="659.5" cy="910.3" r="5.2"/><circle cx="659.5" cy="910.3" r="3.0"/><line x1="578.3" y1="900.3" x2="578.3" y2="906.8"/><circle cx="578.3" cy="920.2" r="13.4"/><line x1="558.3" y1="895.0" x2="558.3" y2="952.5"/><rect x="558.6" y="952.5" width="38.0" height="14.3"/><line x1="573.1" y1="952.5" x2="573.1" y2="966.8"/><line x1="701.1" y1="891.7" x2="718.3" y2="874.5"/><line x1="722.0" y1="879.2" x2="738.0" y2="879.2"/><line x1="722.0" y1="887.0" x2="738.0" y2="887.0"/><line x1="734.8" y1="866.5" x2="734.8" y2="902.5"/><line x1="697.2" y1="883.1" x2="697.2" y2="910.2"/><line x1="718.5" y1="887.1" x2="718.5" y2="910.2"/><line x1="673.3" y1="907.9" x2="718.5" y2="907.9"/></g>
<polygon points="330.2,729.9 338.8,728.2 338.8,731.6" fill="#151515" stroke="none"/><polygon points="546.5,729.9 538.0,731.6 538.0,728.2" fill="#151515" stroke="none"/><polygon points="426.0,750.0 433.6,748.5 433.6,751.5" fill="#151515" stroke="none"/><polygon points="546.5,750.0 538.9,751.5 538.9,748.5" fill="#151515" stroke="none"/><polygon points="318.7,796.8 320.1,804.4 317.3,804.4" fill="#151515" stroke="none"/><polygon points="318.7,882.9 317.3,875.3 320.1,875.3" fill="#151515" stroke="none"/><polygon points="546.5,780.9 554.1,779.5 554.1,782.3" fill="#151515" stroke="none"/><polygon points="611.5,780.9 603.9,782.3 603.9,779.5" fill="#151515" stroke="none"/><polygon points="530.8,793.7 524.1,795.0 524.1,792.4" fill="#151515" stroke="none"/><polygon points="546.5,793.7 553.1,792.4 553.1,795.0" fill="#151515" stroke="none"/><polygon points="546.6,804.7 540.0,806.0 540.0,803.4" fill="#151515" stroke="none"/><polygon points="552.1,804.7 558.8,803.4 558.8,806.0" fill="#151515" stroke="none"/><polygon points="566.6,837.3 574.2,835.9 574.2,838.7" fill="#151515" stroke="none"/><polygon points="611.5,837.3 603.9,838.7 603.9,835.9" fill="#151515" stroke="none"/><polygon points="630.6,844.1 616.8,847.2 616.8,841.0" fill="#151515" stroke="none"/><polygon points="630.8,918.4 617.0,921.5 617.0,915.3" fill="#151515" stroke="none"/><polygon points="629.6,870.5 628.2,863.4 631.0,863.4" fill="#151515" stroke="none"/><polygon points="629.6,895.0 631.0,902.1 628.2,902.1" fill="#151515" stroke="none"/><polygon points="651.9,822.2 653.3,829.8 650.5,829.8" fill="#151515" stroke="none"/><polygon points="651.9,943.9 650.5,936.3 653.3,936.3" fill="#151515" stroke="none"/><polygon points="567.9,954.8 567.6,958.4 565.5,957.5" fill="#151515" stroke="none"/><polygon points="734.8,879.2 733.5,872.6 736.1,872.6" fill="#151515" stroke="none"/><polygon points="734.8,887.0 736.1,893.6 733.5,893.6" fill="#151515" stroke="none"/><polygon points="697.2,907.9 704.8,906.5 704.8,909.3" fill="#151515" stroke="none"/><polygon points="718.5,907.9 710.9,909.3 710.9,906.5" fill="#151515" stroke="none"/>
</svg>
</body></html>
